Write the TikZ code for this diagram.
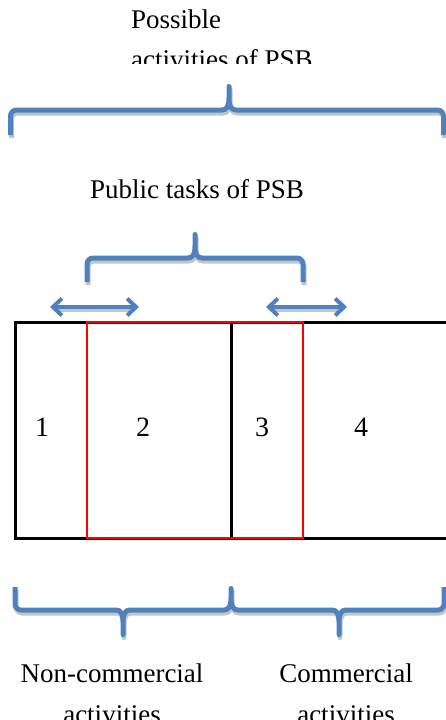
\documentclass[tikz,border=0pt]{standalone}
\usepackage{fontspec}
\setmainfont{Liberation Serif}
\usetikzlibrary{arrows.meta}
\definecolor{wblue}{HTML}{4F81BD}
\definecolor{wshadow}{HTML}{C4C4C4}
\tikzset{
  bracestyle/.style={draw=wblue, line width=5pt, line join=round},
  braceshadow/.style={draw=wshadow, line width=5pt, line join=round},
  txt/.style={font=\fontsize{27}{40}\selectfont, inner sep=0pt},
  numlabel/.style={font=\fontsize{28}{32}\selectfont, inner sep=0pt},
  dblarrow/.style={draw=wblue, line width=4pt, {Straight Barb[length=9pt,width=17pt]}-{Straight Barb[length=9pt,width=17pt]}},
  dblshadow/.style={draw=wshadow, line width=4pt},
  blackline/.style={draw=black, line width=3pt},
  redline/.style={draw=red, line width=2.5pt},
}
\newcommand\topbracepath{(10.5,135) -- (10.5,116) .. controls (10.5,112.7) and (13.2,110) .. (16.5,110) -- (222,110) .. controls (227,110) and (229,106) .. (229,98) -- (229,86.5) -- (229,98) .. controls (229,106) and (231,110) .. (236,110) -- (437.5,110) .. controls (440.8,110) and (443.5,112.7) .. (443.5,116) -- (443.5,135)}
\newcommand\midbracepath{(87,282) -- (87,264) .. controls (87,260.7) and (89.7,258) .. (93,258) -- (188,258) .. controls (193,258) and (195,254) .. (195,246) -- (195,234.5) -- (195,246) .. controls (195,254) and (197,258) .. (202,258) -- (297,258) .. controls (300.3,258) and (303,260.7) .. (303,264) -- (303,282)}
\newcommand\botbracepath{(15,587) -- (15,604) .. controls (15,607.3) and (17.7,610) .. (21,610) -- (116,610) .. controls (121,610) and (123,614) .. (123,622) -- (123,634.5) -- (123,622) .. controls (123,614) and (125,610) .. (130,610) -- (224,610) .. controls (229,610) and (231,606) .. (231,598) -- (231,588.5) -- (231,598) .. controls (231,606) and (233,610) .. (238,610) -- (332,610) .. controls (337,610) and (339,614) .. (339,622) -- (339,634.5) -- (339,622) .. controls (339,614) and (341,610) .. (346,610) -- (438,610) .. controls (441.3,610) and (444,607.3) .. (444,604) -- (444,587)}
\begin{document}
\begin{tikzpicture}[x=1pt, y=-1pt]
\useasboundingbox (0,0) rectangle (446,720);
% titles
\node[txt, anchor=base west] (possible) at (131,28) {Possible};
\begin{scope}
  \clip (0,0) rectangle (446,63);
  \node[txt, anchor=base west] (possible2) at (131,68) {activities of PSB};
\end{scope}
\node[txt, anchor=base] (public) at (197,198) {Public tasks of PSB};
% shadows of braces
\begin{scope}[shift={(1,3)}]
  \draw[braceshadow] \topbracepath;
  \draw[braceshadow] \midbracepath;
  \draw[braceshadow] \botbracepath;
\end{scope}
% braces
\draw[bracestyle] \topbracepath;
\draw[bracestyle] \midbracepath;
\draw[bracestyle] \botbracepath;
% double arrows
\coordinate (la) at (50,307);
\coordinate (lb) at (139,307);
\coordinate (ra) at (266,307);
\coordinate (rb) at (347,307);
\begin{scope}[shift={(1,3)}]
  \draw[dblshadow] (57,307) -- (132,307);
  \draw[dblshadow] (273,307) -- (340,307);
\end{scope}
\draw[dblarrow] (la) -- (lb);
\draw[dblarrow] (ra) -- (rb);
% boxes
\draw[blackline] (446,322) -- (15,322) -- (15,538) -- (446,538);
\draw[blackline] (231,322) -- (231,538);
\draw[redline] (87,322) rectangle (303,538);
\node[numlabel] (n1) at (42,427) {1};
\node[numlabel] (n2) at (143,427) {2};
\node[numlabel] (n3) at (262,427) {3};
\node[numlabel] (n4) at (361,427) {4};
% bottom labels
\node[txt, anchor=base] (noncom) at (112,682) {Non-commercial};
\node[txt, anchor=base] (com) at (346,682) {Commercial};
\begin{scope}
  \clip (0,640) rectangle (446,720);
  \node[txt, anchor=base] (noncom2) at (112,723) {activities};
  \node[txt, anchor=base] (com2) at (346,723) {activities};
\end{scope}
\end{tikzpicture}
\end{document}
